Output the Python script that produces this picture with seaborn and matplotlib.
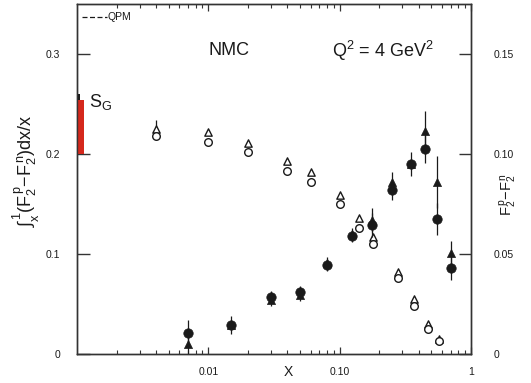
import numpy as np
import pandas as pd
import matplotlib
matplotlib.use("Agg")
import matplotlib.pyplot as plt
import seaborn as sns
from matplotlib.ticker import LogLocator, NullFormatter, FixedLocator

sns.set_style("white")
plt.rcParams["font.family"] = ["Liberation Sans", "DejaVu Sans"]
plt.rcParams["mathtext.fontset"] = "custom"
plt.rcParams["mathtext.rm"] = "Liberation Sans"
plt.rcParams["mathtext.it"] = "Liberation Sans"
plt.rcParams["mathtext.bf"] = "Liberation Sans"

# Integral of (F2p - F2n)/x from x to 1 (left axis): open symbols
x_int = [0.004, 0.01, 0.02, 0.04, 0.06, 0.1, 0.14, 0.18, 0.28, 0.37, 0.47, 0.57]
int_tri = [0.225, 0.222, 0.211, 0.193, 0.182, 0.159, 0.136, 0.117, 0.082, 0.055, 0.030, 0.015]
int_circ = [0.218, 0.212, 0.202, 0.183, 0.172, 0.150, 0.126, 0.110, 0.076, 0.048, 0.025, 0.013]
int_err = [0.009, 0, 0, 0, 0, 0, 0, 0, 0, 0, 0, 0]

# F2p - F2n (right axis): filled symbols
x_diff = [0.007, 0.015, 0.03, 0.05, 0.08, 0.125, 0.175, 0.25, 0.35, 0.45, 0.55, 0.7]
diff_circ = [0.0105, 0.0145, 0.0285, 0.031, 0.0445, 0.059, 0.0645, 0.082, 0.095, 0.1025, 0.0675, 0.043]
diff_circ_err = [0.0065, 0.0045, 0.003, 0.003, 0.003, 0.003, 0.006, 0.005, 0.006, 0.007, 0.008, 0.006]
diff_tri = [0.005, 0.0145, 0.027, 0.0295, 0.0455, 0.060, 0.067, 0.086, 0.095, 0.1115, 0.086, 0.0505]
diff_tri_err = [0.005, 0.0, 0.003, 0.003, 0.003, 0.003, 0.006, 0.005, 0.0, 0.010, 0.013, 0.006]

# Gottfried sum (red band) and its quark-parton-model reference
sg_low, sg_high, sg_top = 0.200, 0.254, 0.260

left_ticks = [0, 0.1, 0.2, 0.3]
left_labels = ["0", "0.1", "0.2", "0.3"]
right_ticks = [0, 0.05, 0.10, 0.15]
right_labels = ["0", "0.05", "0.10", "0.15"]
x_ticks = [0.01, 0.1, 1]
x_labels = ["0.01", "0.10", "1"]

fig = plt.figure(figsize=(5.31, 3.83), dpi=100)
ax = fig.add_axes([0.145, 0.0757, 0.742, 0.914])
ax.set_xscale("log")
ax.set_xlim(0.001, 1)
ax.set_ylim(0, 0.35)

ink = "#1a1a1a"

df_int = pd.DataFrame({"x": x_int, "tri": int_tri, "circ": int_circ, "err": int_err})
ax.errorbar(df_int["x"], df_int["tri"], yerr=df_int["err"], fmt="none",
            ecolor=ink, elinewidth=0.9, zorder=2)
sns.scatterplot(data=df_int, x="x", y="tri", marker="^", s=28, facecolor="white",
                edgecolor=ink, linewidth=1.0, ax=ax, zorder=3)
sns.scatterplot(data=df_int, x="x", y="circ", marker="o", s=30, facecolor="white",
                edgecolor=ink, linewidth=1.0, ax=ax, zorder=3)

# Red band for S_G on the left edge
ax.fill_between([0.001, 0.00113], sg_low, sg_high, color="#d5281c", lw=0, zorder=4)
ax.fill_between([0.001, 0.00105], sg_high, sg_top, color=ink, lw=0, zorder=4)
ax.text(0.00123, sg_high - 0.002, r"S$_\mathrm{G}$", fontsize=13, color=ink,
        va="center", ha="left")

# QPM legend entry
ax.plot([0.00109, 0.00168], [0.337, 0.337], ls=(0, (4, 2)), color=ink, lw=0.9)
ax.text(0.0017, 0.337, "QPM", fontsize=7.5, va="center", ha="left", color=ink)

ax.text(0.0144, 0.303, "NMC", fontsize=13, va="center", ha="center", color=ink)
ax.text(0.214, 0.303, r"Q$^2$ = 4 GeV$^2$", fontsize=13, va="center",
        ha="center", color=ink)

ax2 = ax.twinx()
ax2.set_ylim(0, 0.175)
df_diff = pd.DataFrame({"x": x_diff, "tri": diff_tri, "circ": diff_circ,
                        "terr": diff_tri_err, "cerr": diff_circ_err})
ax2.errorbar(df_diff["x"], df_diff["tri"], yerr=df_diff["terr"], fmt="none",
             ecolor=ink, elinewidth=0.9, zorder=2)
ax2.errorbar(df_diff["x"], df_diff["circ"], yerr=df_diff["cerr"], fmt="none",
             ecolor=ink, elinewidth=0.9, zorder=2)
sns.scatterplot(data=df_diff, x="x", y="tri", marker="^", s=34, color=ink,
                edgecolor=ink, linewidth=0.5, ax=ax2, zorder=3)
sns.scatterplot(data=df_diff, x="x", y="circ", marker="o", s=46, color=ink,
                edgecolor=ink, linewidth=0.5, ax=ax2, zorder=3)

# Axes styling
for a in (ax, ax2):
    for sp in a.spines.values():
        sp.set_color("#333333")
        sp.set_linewidth(1.0)
    a.set_xlabel("")
    a.set_ylabel("")

ax.yaxis.set_major_locator(FixedLocator(left_ticks))
ax.set_yticklabels(left_labels)
ax2.yaxis.set_major_locator(FixedLocator(right_ticks))
ax2.set_yticklabels(right_labels)
ax.xaxis.set_major_locator(FixedLocator(x_ticks))
ax.set_xticklabels(x_labels)
ax.xaxis.set_minor_locator(LogLocator(base=10, subs=np.arange(2, 10)))
ax.xaxis.set_minor_formatter(NullFormatter())

ax.tick_params(axis="y", which="major", direction="in", length=9, width=1.0,
               labelsize=7.5, pad=12, colors="#333333", labelcolor=ink)
ax2.tick_params(axis="y", which="major", direction="in", length=9, width=1.0,
                labelsize=7.5, pad=16, colors="#333333", labelcolor=ink)
ax.tick_params(axis="x", which="major", direction="in", length=5, width=0.9,
               labelsize=7.5, pad=9, top=True, bottom=True, colors="#333333",
               labelcolor=ink)
ax.tick_params(axis="x", which="minor", direction="in", length=3, width=0.8,
               top=True, bottom=True, colors="#333333")
ax2.tick_params(axis="x", which="both", top=False, bottom=False)

fig.text(0.050, 0.555, r"$\int_x^1$(F$_2^{\,p}$$-$F$_2^{\,n}$)dx/x", rotation=90,
         fontsize=13, va="center", ha="center", color=ink)
fig.text(0.957, 0.493, r"F$_2^{\,p}$$-$F$_2^{\,n}$", rotation=90,
         fontsize=10.5, va="center", ha="center", color=ink)
fig.text(0.543, 0.028, "X", fontsize=10, va="center", ha="center", color=ink)

fig.savefig("out.png", dpi=100)
